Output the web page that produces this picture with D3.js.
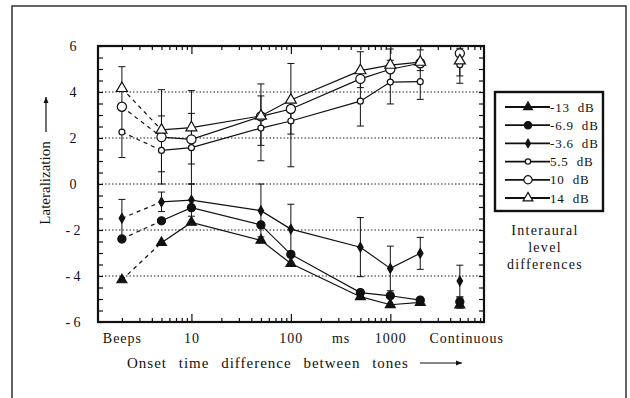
<!DOCTYPE html>
<html>
<head>
<meta charset="utf-8">
<script src="https://cdn.jsdelivr.net/npm/d3@7"></script>
<style>
  body { margin: 0; background: #fff; }
  svg text { font-family: "Liberation Serif", "Times New Roman", serif; fill: #111; }
</style>
</head>
<body>
<svg id="chart" width="630" height="398"></svg>
<script>
// onset time of each measurement (ms); Beeps and Continuous sit at 2 and 5000 on the log axis
const onsets = [2, 5, 10, 50, 100, 500, 1000, 2000, 5000];

const seriesNames = ['-13 dB', '-6.9 dB', '-3.6 dB', '5.5 dB', '10 dB', '14 dB'];
const ildMinus13 = [-4.17, -2.55, -1.67, -2.45, -3.46, -4.90, -5.25, -5.15, -5.26];
const ildMinus69 = [-2.39, -1.60, -1.03, -1.78, -3.06, -4.72, -4.86, -5.05, -5.12];
const ildMinus36 = [-1.49, -0.78, -0.70, -1.16, -1.96, -2.75, -3.67, -3.01, -4.22];
const ild55 = [2.26, 1.46, 1.58, 2.43, 2.74, 3.60, 4.43, 4.45, 5.19];
const ild10 = [3.36, 2.04, 1.94, 2.94, 3.26, 4.57, 4.99, 5.25, 5.68];
const ild14 = [4.16, 2.35, 2.45, 2.96, 3.65, 4.93, 5.17, 5.30, 5.36];

// error bars: onset, low end, high end
const errOnset = [2, 2, 5, 5, 5, 10, 10, 10, 50, 50, 50, 100, 100, 100,
  500, 500, 500, 1000, 1000, 1000, 2000, 2000, 2000, 5000, 5000, 5000, 5000];
const errLow = [1.15, -2.31, 0.0, 0.53, -1.2, 0.0, 0.87, -1.4, 1.01, 1.68, -2.3, 0.75, 2.17, -3.04,
  4.19, 2.52, -4.03, 4.47, 3.48, -4.64, 4.93, 3.68, -3.71, 4.38, 4.7, -4.9, -5.4];
const errHigh = [5.1, -0.67, 4.1, 2.96, -0.35, 4.06, 3.07, 0.0, 4.35, 3.83, 0.0, 5.24, 3.3, -0.88,
  5.75, 4.68, -1.46, 5.87, 5.38, -2.70, 5.83, 5.22, -2.32, 5.9, 5.6, -3.53, -4.95];

const xTickValues = [2, 10, 100, 316, 1000, 5800];
const xTickLabels = ['Beeps', '10', '100', 'ms', '1000', 'Continuous'];
const yTickValues = [-6, -4, -2, 0, 2, 4, 6];
const gridValues = [-4, -2, 0, 2, 4];

const seriesValues = [ildMinus13, ildMinus69, ildMinus36, ild55, ild10, ild14];

// plot area inside the svg
const plot = {left: 98, right: 484, top: 46, bottom: 322};

const svg = d3.select('#chart');

// outer frame of the figure
svg.append('rect')
  .attr('x', 12).attr('y', 6)
  .attr('width', 614).attr('height', 420)
  .attr('fill', 'none').attr('stroke', '#333').attr('stroke-width', 1.5);

const x = d3.scaleLog().domain([1.15, 8750]).range([plot.left, plot.right]);
const y = d3.scaleLinear().domain([-6, 6]).range([plot.bottom, plot.top]);

// dotted grid lines
svg.append('g').selectAll('line')
  .data(gridValues)
  .enter().append('line')
    .attr('x1', plot.left).attr('x2', plot.right)
    .attr('y1', d => y(d)).attr('y2', d => y(d))
    .attr('stroke', '#222').attr('stroke-width', 1)
    .attr('stroke-dasharray', '1.5,2');

// inner ticks on all four sides
const minorX = [];
[1, 10, 100, 1000].forEach(p => d3.range(2, 10).forEach(k => {
  const v = p * k;
  if (v > 1.15 && v < 8750) minorX.push(v);
}));
const majorX = [10, 100, 1000];
const yMinor = d3.range(-6, 6.01, 0.5);

const stripAxis = g => g.call(s => s.select('.domain').remove()).selectAll('text').remove();

svg.append('g').attr('transform', `translate(0, ${plot.bottom})`)
  .call(d3.axisBottom(x).tickValues(minorX).tickSize(-4).tickFormat('')).call(stripAxis);
svg.append('g').attr('transform', `translate(0, ${plot.bottom})`)
  .call(d3.axisBottom(x).tickValues(majorX).tickSize(-8).tickFormat('')).call(stripAxis);
svg.append('g').attr('transform', `translate(0, ${plot.top})`)
  .call(d3.axisTop(x).tickValues(minorX).tickSize(-4).tickFormat('')).call(stripAxis);
svg.append('g').attr('transform', `translate(0, ${plot.top})`)
  .call(d3.axisTop(x).tickValues(majorX).tickSize(-8).tickFormat('')).call(stripAxis);
svg.append('g').attr('transform', `translate(${plot.left}, 0)`)
  .call(d3.axisLeft(y).tickValues(yMinor).tickSize(-5).tickFormat('')).call(stripAxis);
svg.append('g').attr('transform', `translate(${plot.right}, 0)`)
  .call(d3.axisRight(y).tickValues(yMinor).tickSize(-5).tickFormat('')).call(stripAxis);

svg.selectAll('.tick line').attr('stroke', '#111').attr('stroke-width', 1.2);

// plot border
svg.append('rect')
  .attr('x', plot.left).attr('y', plot.top)
  .attr('width', plot.right - plot.left).attr('height', plot.bottom - plot.top)
  .attr('fill', 'none').attr('stroke', '#111').attr('stroke-width', 2.2);

// tick labels
const xLabelAxis = svg.append('g').attr('transform', `translate(0, ${plot.bottom})`)
  .call(d3.axisBottom(x).tickValues(xTickValues)
    .tickFormat((d, i) => xTickLabels[i]).tickSize(0).tickPadding(11));
xLabelAxis.select('.domain').remove();
xLabelAxis.selectAll('text')
  .attr('font-size', 14).attr('letter-spacing', 1)
  .style('font-family', '"Liberation Serif", serif').attr('fill', '#111');

const yLabelAxis = svg.append('g').attr('transform', `translate(${plot.left}, 0)`)
  .call(d3.axisLeft(y).tickValues(yTickValues)
    .tickFormat(d => d < 0 ? '- ' + (-d) : d).tickSize(0));
yLabelAxis.select('.domain').remove();
yLabelAxis.selectAll('text')
  .attr('x', -25).attr('text-anchor', 'middle')
  .attr('font-size', 14)
  .style('font-family', '"Liberation Serif", serif').attr('fill', '#111');

// axis titles with arrows
svg.append('text')
  .attr('transform', 'translate(50, 183) rotate(-90)')
  .attr('text-anchor', 'middle').attr('font-size', 15)
  .text('Lateralization');

svg.append('text')
  .attr('x', 127).attr('y', 368)
  .attr('font-size', 15).attr('letter-spacing', 1).attr('word-spacing', 7)
  .text('Onset time difference between tones');

const arrow = (x1, y1, x2, y2) => {
  svg.append('line')
    .attr('x1', x1).attr('y1', y1).attr('x2', x2).attr('y2', y2)
    .attr('stroke', '#111').attr('stroke-width', 1.2);
  const ang = Math.atan2(y2 - y1, x2 - x1);
  const head = [[0, 0], [-6, -2.5], [-6, 2.5]].map(([a, b]) => [
    x2 + a * Math.cos(ang) - b * Math.sin(ang),
    y2 + a * Math.sin(ang) + b * Math.cos(ang)
  ]);
  svg.append('path').attr('d', d3.line()(head) + 'Z').attr('fill', '#111');
};
arrow(46, 132, 46, 97);
arrow(420, 363, 462, 363);

// marker shapes per series
const markers = [
  {type: d3.symbolTriangle, size: 42, fill: '#111'},
  {type: d3.symbolCircle, size: 52, fill: '#111'},
  {type: d3.symbolDiamond, size: 26, fill: '#111'},
  {type: d3.symbolCircle, size: 28, fill: '#fff'},
  {type: d3.symbolCircle, size: 66, fill: '#fff'},
  {type: d3.symbolTriangle, size: 52, fill: '#fff'}
];

const line = d3.line().x(d => x(d[0])).y(d => y(d[1]));

seriesValues.forEach(vals => {
  const pts = onsets.map((o, i) => [o, vals[i]]);
  // dashed link from Beeps to the first onset
  svg.append('path')
    .attr('d', line(pts.slice(0, 2)))
    .attr('fill', 'none').attr('stroke', '#111').attr('stroke-width', 1.2)
    .attr('stroke-dasharray', '4,4');
  // solid curve through the onset times
  svg.append('path')
    .attr('d', line(pts.slice(1, 8)))
    .attr('fill', 'none').attr('stroke', '#111').attr('stroke-width', 1.2);
});

// error bars
const errG = svg.append('g').attr('stroke', '#111').attr('stroke-width', 1);
errOnset.forEach((o, i) => {
  const cx = x(o);
  errG.append('line').attr('x1', cx).attr('x2', cx)
    .attr('y1', y(errLow[i])).attr('y2', y(errHigh[i]));
  [errLow[i], errHigh[i]].forEach(v => {
    errG.append('line').attr('x1', cx - 3.5).attr('x2', cx + 3.5)
      .attr('y1', y(v)).attr('y2', y(v));
  });
});

// markers
seriesValues.forEach((vals, s) => {
  const m = markers[s];
  svg.append('g').selectAll('path')
    .data(onsets.map((o, i) => [o, vals[i]]))
    .enter().append('path')
      .attr('d', d3.symbol().type(m.type).size(m.size))
      .attr('transform', d => `translate(${x(d[0])}, ${y(d[1])})`)
      .attr('fill', m.fill).attr('stroke', '#111').attr('stroke-width', 1.2);
});

// legend
const legend = svg.append('g');
legend.append('rect')
  .attr('x', 495).attr('y', 92).attr('width', 108).attr('height', 119)
  .attr('fill', '#fff').attr('stroke', '#111').attr('stroke-width', 2.4);

const ly = d3.scalePoint().domain(seriesNames).range([107, 198]);
seriesNames.forEach((name, s) => {
  const yy = ly(name);
  legend.append('line')
    .attr('x1', 505).attr('x2', 550).attr('y1', yy).attr('y2', yy)
    .attr('stroke', '#111').attr('stroke-width', 1.8);
  legend.append('path')
    .attr('d', d3.symbol().type(markers[s].type).size(markers[s].size * 0.8))
    .attr('transform', `translate(528, ${yy})`)
    .attr('fill', markers[s].fill).attr('stroke', '#111').attr('stroke-width', 1.2);
  legend.append('text')
    .attr('x', 550).attr('y', yy + 4.5)
    .attr('font-size', 13).attr('letter-spacing', 0.8).attr('word-spacing', 4)
    .text(name);
});

const legendTitle = ['Interaural', 'level', 'differences'];
legend.selectAll('.ltitle')
  .data(legendTitle)
  .enter().append('text')
    .attr('class', 'ltitle')
    .attr('x', 545).attr('y', (d, i) => 235 + i * 17)
    .attr('text-anchor', 'middle').attr('font-size', 14).attr('letter-spacing', 1.3)
    .text(d => d);
</script>
</body>
</html>
